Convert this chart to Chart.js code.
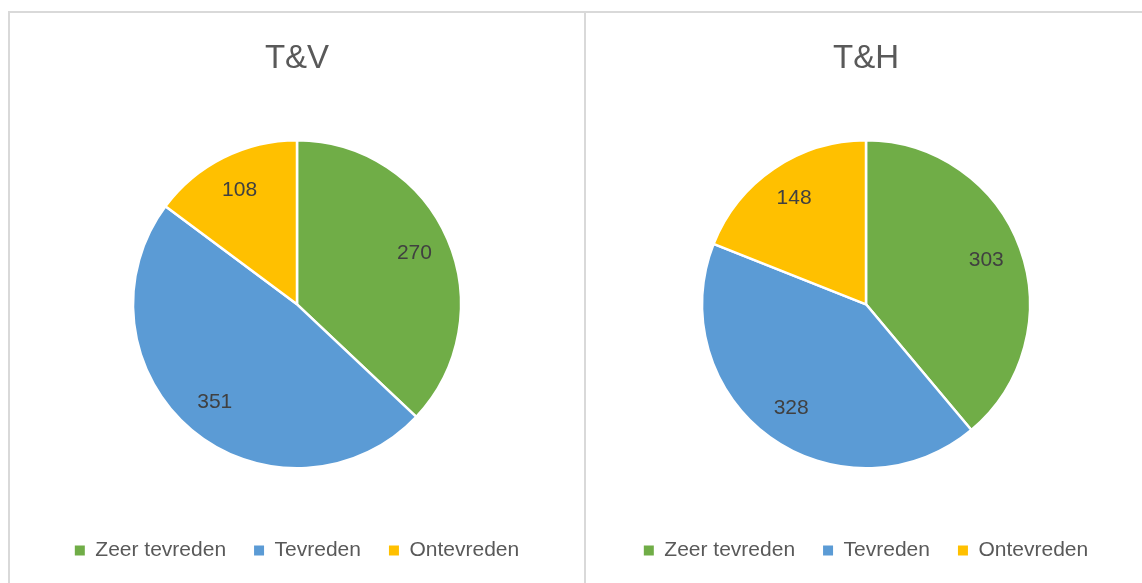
<!DOCTYPE html>
<html>
<head>
<meta charset="utf-8">
<script src="https://cdn.jsdelivr.net/npm/chart.js@4.4.1/dist/chart.umd.min.js"></script>
<style>
    html, body { margin: 0; padding: 0; background: #fff; overflow: hidden; width: 1142px; height: 583px; }
    .panel { position: absolute; top: 11px; height: 620px; border-top: 2px solid #d9d9d9; border-left: 2px solid #d9d9d9; }
    #panelLeft { left: 8px; width: 574px; }
    #panelRight { left: 584px; width: 560px; }
    canvas { position: absolute; left: 0; top: 0; }
</style>
</head>
<body>
<div class="panel" id="panelLeft"><canvas id="chartTV" width="574" height="600"></canvas></div>
<div class="panel" id="panelRight"><canvas id="chartTH" width="560" height="600"></canvas></div>
<script>
const categories = ['Zeer tevreden', 'Tevreden', 'Ontevreden'];
const valuesTV = [270, 351, 108];
const valuesTH = [303, 328, 148];
const sliceColors = ['#70AD47', '#5B9BD5', '#FFC000'];

const fontFamily = '"Liberation Sans", Arial, sans-serif';

// waarden in de taartpunten tekenen (zoals Excel)
const sliceLabels = {
    id: 'sliceLabels',
    afterDatasetsDraw(chart) {
        const ctx = chart.ctx;
        const meta = chart.getDatasetMeta(0);
        const data = chart.data.datasets[0].data;
        ctx.save();
        ctx.font = '21px ' + fontFamily;
        ctx.fillStyle = '#404040';
        ctx.textAlign = 'center';
        ctx.textBaseline = 'middle';
        meta.data.forEach((arc, i) => {
            const p = arc.getProps(['x', 'y', 'startAngle', 'endAngle', 'outerRadius'], true);
            const mid = (p.startAngle + p.endAngle) / 2;
            const r = p.outerRadius * 0.78;
            ctx.fillText(String(data[i]), p.x + Math.cos(mid) * r, p.y + Math.sin(mid) * r);
        });
        ctx.restore();
    }
};

function createPie(canvasId, title, values) {
    const ctx = document.getElementById(canvasId).getContext('2d');
    return new Chart(ctx, {
        type: 'pie',
        data: {
            labels: categories,
            datasets: [{
                data: values,
                backgroundColor: sliceColors,
                borderColor: '#ffffff',
                borderWidth: 2.5,
                radius: 164
            }]
        },
        options: {
            responsive: false,
            animation: false,
            layout: { padding: { top: 0, bottom: 42 } },
            plugins: {
                title: {
                    display: true,
                    text: title,
                    color: '#595959',
                    font: { family: fontFamily, size: 33, weight: 'normal', lineHeight: 1.2 },
                    padding: { top: 26, bottom: 18 }
                },
                legend: {
                    position: 'bottom',
                    labels: {
                        color: '#595959',
                        font: { family: fontFamily, size: 21 },
                        boxWidth: 10,
                        boxHeight: 10,
                        padding: 28,
                        // geen witte rand om de legendablokjes
                        generateLabels: chart => Chart.overrides.pie.plugins.legend.labels
                            .generateLabels(chart)
                            .map(item => ({ ...item, lineWidth: 0 }))
                    }
                },
                tooltip: { enabled: false }
            }
        },
        plugins: [sliceLabels]
    });
}

createPie('chartTV', 'T&V', valuesTV);
createPie('chartTH', 'T&H', valuesTH);
</script>
</body>
</html>
